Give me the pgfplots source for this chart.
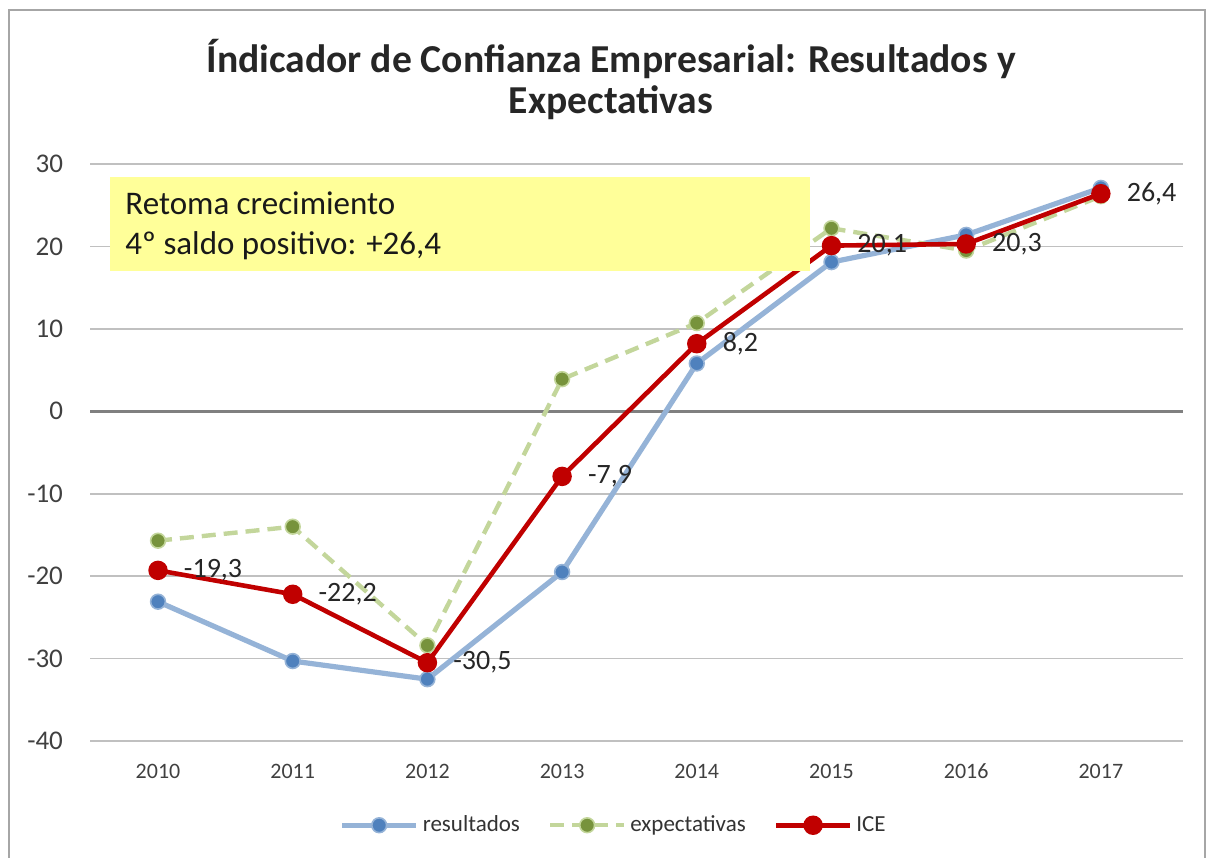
\documentclass[border=0pt]{standalone}
\usepackage{fontspec}
\setmainfont{Carlito}
\usepackage{pgfplots}
\pgfplotsset{compat=1.18}
\definecolor{gridc}{HTML}{C0C0C0}
\definecolor{zeroc}{HTML}{808080}
\definecolor{framec}{HTML}{A6A6A6}
\definecolor{bluel}{HTML}{95B3D7}
\definecolor{bluem}{HTML}{4F81BD}
\definecolor{greenl}{HTML}{C3D69B}
\definecolor{greenm}{HTML}{77933C}
\definecolor{redc}{HTML}{C00000}
\definecolor{yellowc}{HTML}{FFFF99}
\definecolor{tickc}{HTML}{404040}

\pgfplotstableread{
x res
0 -23.1
1 -30.3
2 -32.5
3 -19.5
4 5.8
5 18.1
6 21.4
7 27.1
}\resdata
\pgfplotstableread{
x exp
0 -15.7
1 -14.0
2 -28.4
3 3.9
4 10.7
5 22.2
6 19.5
7 26.1
}\expdata
\pgfplotstableread{
x ice lab
0 -19.3 -19,3
1 -22.2 -22,2
2 -30.5 -30,5
3 -7.9 -7,9
4 8.2 8,2
5 20.1 20,1
6 20.3 20,3
7 26.4 26,4
}\icedata

\begin{document}
\begin{tikzpicture}
\useasboundingbox (0pt,0pt) rectangle (607pt,428.5pt);
\draw[framec, line width=1pt] (4.5pt,-5pt) rectangle (602.5pt,423.5pt);
\node[font=\bfseries\fontsize{19.8}{23}\selectfont, text=black!85] at (305.5pt,399pt) {Índicador de Confianza Empresarial: Resultados y};
\node[font=\bfseries\fontsize{19.8}{23}\selectfont, text=black!85] at (305.5pt,377pt) {Expectativas};
\begin{axis}[
  at={(45pt,58pt)}, anchor=south west,
  scale only axis, width=546.5pt, height=288.5pt,
  xmin=-0.505, xmax=7.61, ymin=-40, ymax=30,
  ytick={-40,-30,...,30},
  xtick={0,...,7},
  xticklabels={2010,2011,2012,2013,2014,2015,2016,2017},
  axis line style={draw=none},
  tick style={draw=none},
  ymajorgrids, grid style={gridc, line width=0.9pt},
  /pgf/number format/assume math mode=true,
  yticklabel style={font=\fontsize{13.5}{15}\selectfont, text=tickc, xshift=-10pt},
  xticklabel style={font=\fontsize{11}{13}\selectfont, text=tickc, yshift=-8pt},
  legend columns=3,
  legend style={at={(0.48,-0.146)}, anchor=center, draw=none, fill=none,
    font=\fontsize{11.5}{13}\selectfont, text=black!80,
    /tikz/every even column/.append style={column sep=12pt}},
  legend image code/.code={\draw[mark repeat=2,mark phase=2,#1] plot coordinates {(0pt,0pt) (18.5pt,0pt) (37pt,0pt)};},
  clip=false,
]
\draw[zeroc, line width=1.4pt] (axis cs:-0.505,0) -- (axis cs:7.61,0);
\addplot[bluel, line width=2.6pt, mark=*, mark size=3.7pt, mark options={fill=bluem, draw=bluel, line width=0.8pt, solid}] table[x=x,y=res] {\resdata};
\addlegendentry{resultados}
\addplot[greenl, line width=2.2pt, dash pattern=on 7pt off 4pt, mark=*, mark size=3.7pt, mark options={fill=greenm, draw=greenl, line width=0.8pt, solid}] table[x=x,y=exp] {\expdata};
\addlegendentry{expectativas}
\addplot[redc, line width=2.3pt, mark=*, mark size=3.7pt, mark options={fill=redc, draw=redc, solid},
  nodes near coords, point meta=explicit symbolic,
  every node near coord/.append style={anchor=west, xshift=8.5pt, text=black!85, font=\fontsize{14}{16}\selectfont}] table[x=x,y=ice,meta=lab] {\icedata};
\addlegendentry{ICE}
\end{axis}
\fill[yellowc] (55pt,293pt) rectangle (405pt,340pt);
\node[anchor=base west, inner sep=0, font=\fontsize{16.5}{19}\selectfont, text=black!90] at (62.5pt,321pt) {Retoma crecimiento};
\node[anchor=base west, inner sep=0, font=\fontsize{16.5}{19}\selectfont, text=black!90] at (62.5pt,301pt) {4º saldo positivo: +26,4};
\end{tikzpicture}
\end{document}
